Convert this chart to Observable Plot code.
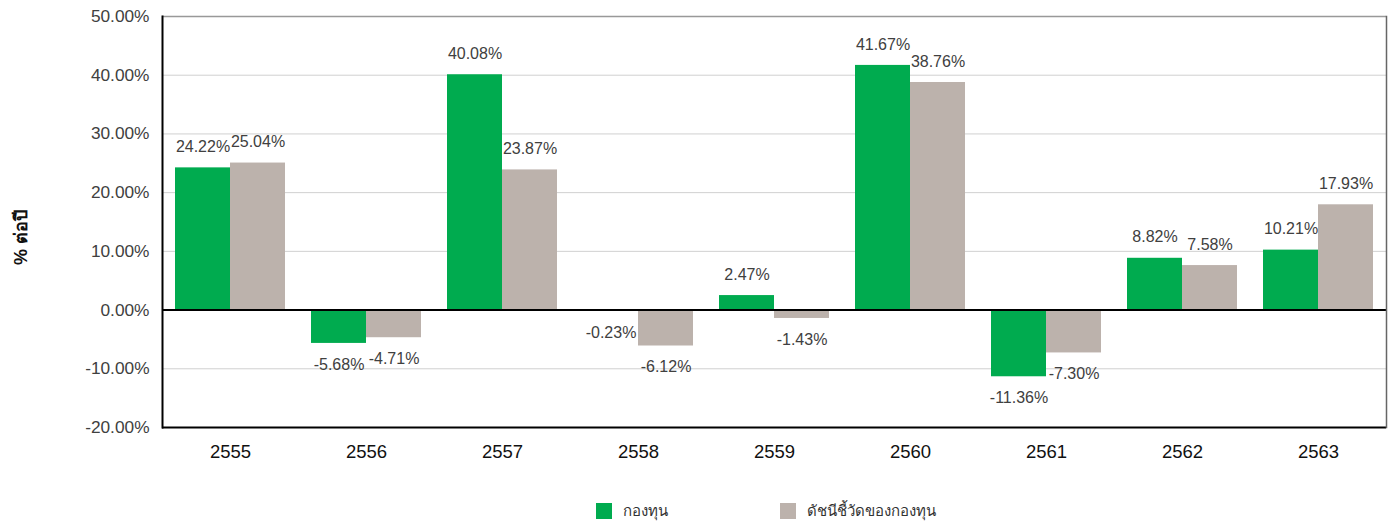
<!DOCTYPE html>
<html>
<head>
<meta charset="utf-8">
<script src="https://cdn.jsdelivr.net/npm/d3@7"></script>
<script src="https://cdn.jsdelivr.net/npm/@observablehq/plot@0.6"></script>
<style>
  body { margin: 0; background: #fff; font-family: "Liberation Sans", Arial, sans-serif; }
  #chart svg { display: block; }
  .legend { display: flex; justify-content: flex-start; gap: 112px; margin-top: 19px; padding-left: 596px; font-size: 15px; color: #333; }
  .legend .item { display: flex; align-items: center; }
  .legend .sw { width: 16px; height: 16px; margin-right: 11px; display: inline-block; }
</style>
</head>
<body>
<div id="chart"></div>
<script>
const years = ["2555", "2556", "2557", "2558", "2559", "2560", "2561", "2562", "2563"];
const seriesNames = ["กองทุน", "ดัชนีชี้วัดของกองทุน"];
const fundValues = [24.22, -5.68, 40.08, -0.23, 2.47, 41.67, -11.36, 8.82, 10.21];
const indexValues = [25.04, -4.71, 23.87, -6.12, -1.43, 38.76, -7.30, 7.58, 17.93];
const yTicks = [-20, -10, 0, 10, 20, 30, 40, 50];
const colors = ["#00ab4f", "#bcb2ac"];
const yLabel = "% ต่อปี";

const data = [];
years.forEach((yr, i) => {
  data.push({year: yr, series: seriesNames[0], value: fundValues[i]});
  data.push({year: yr, series: seriesNames[1], value: indexValues[i]});
});
const fmt = v => v.toFixed(2) + "%";

const chart = Plot.plot({
  width: 1396,
  height: 480,
  marginLeft: 161,
  marginRight: 9,
  marginTop: 16,
  marginBottom: 53,
  style: {fontFamily: "'Liberation Sans', Arial, sans-serif", fontSize: "15px", color: "#404040", background: "#fff"},
  fx: {domain: years, padding: 0, label: null},
  x: {domain: seriesNames, paddingInner: 0, paddingOuter: 0.23, axis: null},
  y: {domain: [-20, 50], axis: null},
  color: {domain: seriesNames, range: colors},
  marks: [
    Plot.ruleY(yTicks.filter(t => t !== 0 && t !== 50 && t !== -20), {stroke: "#d0d0d0", strokeWidth: 1}),
    Plot.barY(data, {fx: "year", x: "series", y: "value", fill: "series"}),
    Plot.ruleY([0], {stroke: "#000", strokeWidth: 2}),
    Plot.ruleY([50], {stroke: "#999", strokeWidth: 1.5}),
    Plot.ruleY([-20], {stroke: "#000", strokeWidth: 2}),
    Plot.frame({anchor: "left", stroke: "#000", strokeWidth: 2, facetAnchor: "left"}),
    Plot.frame({anchor: "right", stroke: "#666", strokeWidth: 1.5, facetAnchor: "right"}),
    Plot.axisY({ticks: yTicks, tickFormat: fmt, tickSize: 0, tickPadding: 13, fontSize: 17.3, fill: "#404040", label: null}),
    Plot.axisFx({anchor: "bottom", tickSize: 0, tickPadding: 17, fontSize: 18.5, fill: "#111", label: null}),
    Plot.text(data.filter(d => d.value >= 0), {fx: "year", x: "series", y: "value", text: d => fmt(d.value), dy: -21, fontSize: 16, fill: "#404040"}),
    Plot.text(data.filter(d => d.value < 0), {fx: "year", x: "series", y: "value", text: d => fmt(d.value), dy: 21, fontSize: 16, fill: "#404040"}),
    Plot.text([yLabel], {text: d => d, frameAnchor: "left", rotate: -90, dx: -141, dy: 43, fontSize: 18, fontWeight: "bold", fill: "#111", facetAnchor: "left"})
  ]
});
document.getElementById("chart").appendChild(chart);

const legend = document.createElement("div");
legend.className = "legend";
seriesNames.forEach((name, i) => {
  const item = document.createElement("div");
  item.className = "item";
  const sw = document.createElement("span");
  sw.className = "sw";
  sw.style.background = colors[i];
  item.appendChild(sw);
  item.appendChild(document.createTextNode(name));
  legend.appendChild(item);
});
document.getElementById("chart").appendChild(legend);
</script>
</body>
</html>
